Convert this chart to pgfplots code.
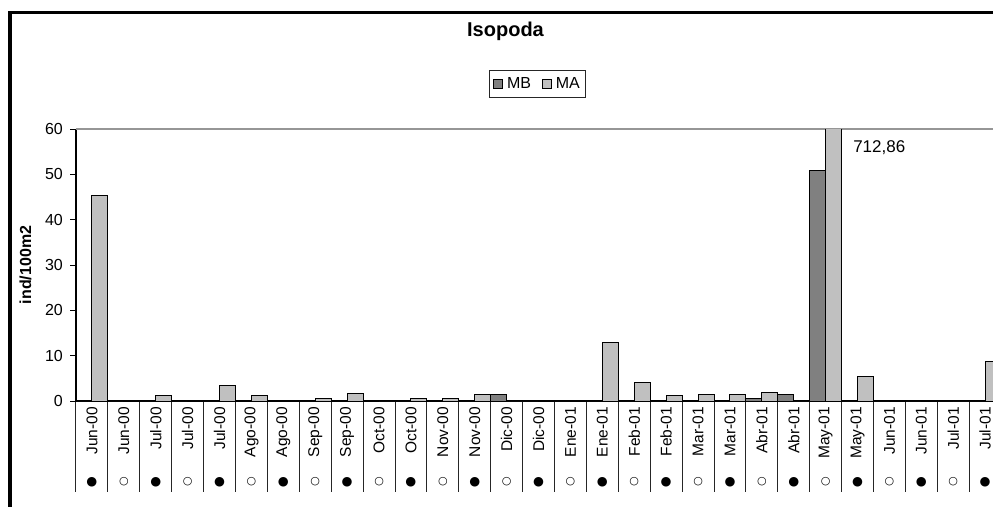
\documentclass[border=0pt]{standalone}
\usepackage{pgfplots}
\pgfplotsset{compat=1.18}
\usepackage{fontspec}
\setmainfont{Liberation Sans}
\newfontfamily\dejavu{DejaVu Sans}
\usepackage{graphicx}
\definecolor{mb}{RGB}{128,128,128}
\definecolor{ma}{RGB}{192,192,192}
\newcommand{\R}[1]{\rotatebox{90}{#1}}
\newcommand{\fd}{{\dejavu\fontsize{12.5}{12.5}\selectfont ●}}
\newcommand{\od}{{\dejavu\fontsize{11}{11}\selectfont ○}}
\begin{document}
\begin{tikzpicture}
\useasboundingbox (0pt,0pt) rectangle (993pt,506pt);
\clip (0pt,0pt) rectangle (993pt,506pt);
\fill[white] (0pt,0pt) rectangle (993pt,506pt);
\begin{axis}[
  at={(76pt,105pt)}, anchor=south west,
  scale only axis, width=925.1pt, height=272pt,
  xmin=0, xmax=29, ymin=0, ymax=60,
  axis x line*=bottom, axis y line*=left,
  axis line style={black, line width=1.2pt},
  ybar=0pt, bar width=15.95pt,
  ytick={0,10,...,60},
  tick align=outside,
  major tick length=6pt,
  tick style={black, line width=1pt},
  yticklabel style={font=\fontsize{16}{18}\selectfont, inner sep=0pt, anchor=east, xshift=-7pt},
  /pgf/number format/assume math mode=true,
  xtick={0.5,1.5,...,28.5},
  xticklabels={\R{Jun-00},\R{Jun-00},\R{Jul-00},\R{Jul-00},\R{Jul-00},\R{Ago-00},\R{Ago-00},\R{Sep-00},\R{Sep-00},\R{Oct-00},\R{Oct-00},\R{Nov-00},\R{Nov-00},\R{Dic-00},\R{Dic-00},\R{Ene-01},\R{Ene-01},\R{Feb-01},\R{Feb-01},\R{Mar-01},\R{Mar-01},\R{Abr-01},\R{Abr-01},\R{May-01},\R{May-01},\R{Jun-01},\R{Jun-01},\R{Jul-01},\R{Jul-01}},
  x tick label style={font=\fontsize{15.5}{17}\selectfont, anchor=north, inner sep=0pt},
  major x tick style={draw=none},
  minor xtick={0,1,...,29},
  minor tick length=91pt,
  minor x tick style={black!85, line width=1pt},
  extra x ticks={0.5,1.5,...,28.5},
  extra x tick labels={\fd,\od,\fd,\od,\fd,\od,\fd,\od,\fd,\od,\fd,\od,\fd,\od,\fd,\od,\fd,\od,\fd,\od,\fd,\od,\fd,\od,\fd,\od,\fd,\od,\fd},
  extra x tick style={xticklabel style={anchor=center, yshift=-75pt}},
  extra y ticks={60},
  extra y tick labels={},
  extra y tick style={grid=major, major grid style={color={rgb,255:red,150;green,150;blue,150}, line width=1.5pt}},
  ylabel={ind/100m2},
  ylabel style={at={(-0.0546,0.5)}, anchor=center, font=\bfseries\fontsize{16}{18}\selectfont},
  title={Isopoda},
  title style={at={(0.4643,1.3382)}, anchor=center, font=\bfseries\fontsize{20}{24}\selectfont},
  legend columns=2,
  legend style={at={(0.4989,1.1649)}, anchor=center, draw=black!85, line width=1pt,
    font=\fontsize{16}{18}\selectfont, inner xsep=4pt, inner ysep=5pt,
    /tikz/every even column/.append style={column sep=9pt},
    /tikz/every odd column/.append style={column sep=2pt}},
]
\addplot[fill=mb, draw=black, line width=1pt,
  legend image code/.code={\draw[fill=mb, draw=black, line width=0.8pt] (0pt,-4.5pt) rectangle (9pt,4.5pt);}]
coordinates {(0.5,0) (1.5,0) (2.5,0) (3.5,0) (4.5,0) (5.5,0.2) (6.5,0.2) (7.5,0) (8.5,0.2) (9.5,0.2) (10.5,0) (11.5,0.2) (12.5,0) (13.5,1.5) (14.5,0) (15.5,0) (16.5,0) (17.5,0) (18.5,0) (19.5,0.2) (20.5,0) (21.5,0.65) (22.5,1.5) (23.5,50.8) (24.5,0) (25.5,0) (26.5,0) (27.5,0) (28.5,0)};
\addlegendentry{MB}
\addplot[fill=ma, draw=black, line width=1pt,
  legend image code/.code={\draw[fill=ma, draw=black, line width=0.8pt] (0pt,-4.5pt) rectangle (9pt,4.5pt);}]
coordinates {(0.5,45.3) (1.5,0.2) (2.5,1.2) (3.5,0.2) (4.5,3.5) (5.5,1.2) (6.5,0.2) (7.5,0.65) (8.5,1.7) (9.5,0) (10.5,0.6) (11.5,0.6) (12.5,1.5) (13.5,0) (14.5,0.2) (15.5,0.2) (16.5,12.9) (17.5,4.0) (18.5,1.25) (19.5,1.5) (20.5,1.5) (21.5,1.8) (22.5,0) (23.5,712.86) (24.5,5.5) (25.5,0.2) (26.5,0.2) (27.5,0) (28.5,8.7)};
\addlegendentry{MA}
\node[anchor=west, inner sep=0pt, font=\fontsize{17}{19}\selectfont] at (axis cs:24.36,55.8) {712,86};
\end{axis}
\draw[line width=3.3pt] (10pt,-10pt) -- (10pt,493.5pt) -- (1010pt,493.5pt);
\end{tikzpicture}
\end{document}
